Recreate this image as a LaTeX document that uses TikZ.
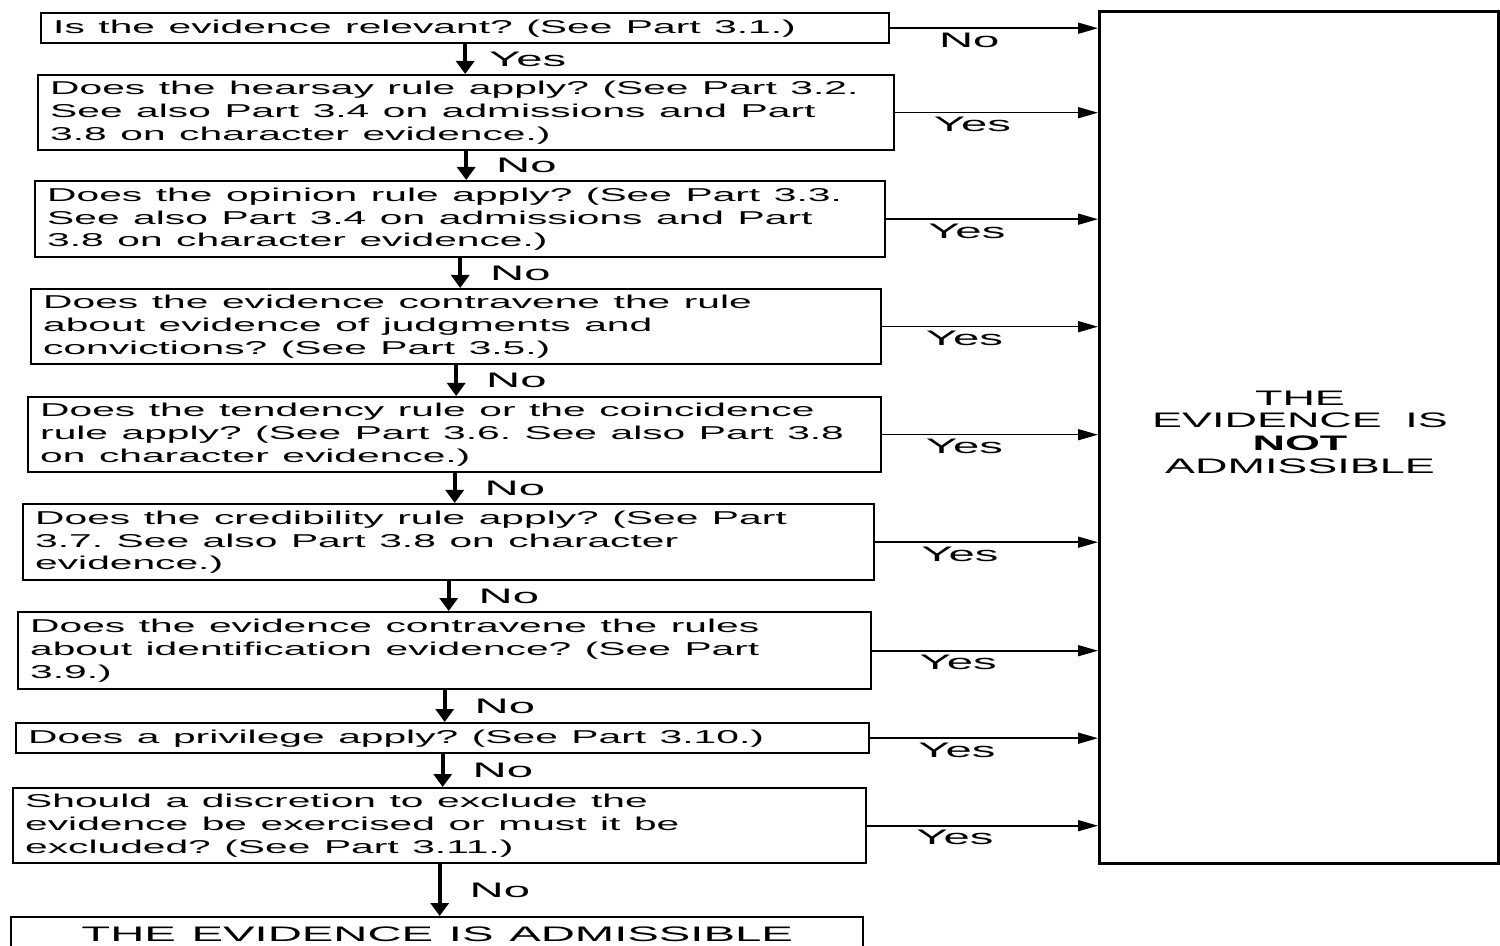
\documentclass[tikz,border=0pt]{standalone}
\usepackage{fontspec}
\usepackage{graphicx}
\setmainfont{Liberation Sans}
\DeclareRobustCommand\mainfnt{\fontsize{9.3pt}{11.3pt}\selectfont\frenchspacing\spaceskip=5pt\relax}
\DeclareRobustCommand\lblfnt{\fontsize{10.5pt}{11.35pt}\selectfont\frenchspacing\spaceskip=5.5pt\relax}
\newcommand\wl[1]{\scalebox{2.19}[1]{#1}}
\newcommand\wb[1]{\scalebox{2.25}[1]{#1}}
\newcommand\wc[1]{\scalebox{2.14}[1]{#1}}
\usetikzlibrary{arrows.meta}
\begin{document}
\begin{tikzpicture}[x=0.5pt, y=-0.5pt,
  font=\mainfnt,
  box/.style={draw, line width=1.2pt, anchor=north west, align=left, inner xsep=6pt, inner ysep=1pt},
  darr/.style={line width=2pt, -{Triangle[length=6.5pt,width=9pt]}},
  rarr/.style={line width=0.8pt, -{Triangle[length=10pt,width=5.5pt]}},
  lbl/.style={font=\lblfnt},
  lab/.style={lbl, anchor=west, inner sep=0pt, xshift=14pt},
  rlab/.style={lbl, anchor=north, inner sep=2pt, pos=0.38}]
\useasboundingbox (0,0) rectangle (1500,946);
\clip (0,0) rectangle (1500,946);

\node[box, text width=412pt, minimum height=15pt] (b1) at (40,12)
  {\wl{Is the evidence relevant? (See Part 3.1.)}};
\node[box, text width=416pt, minimum height=37.5pt] (b2) at (37,74)
  {\wl{Does the hearsay rule apply? (See Part 3.2.}\\\wl{See also Part 3.4 on admissions and Part}\\\wl{3.8 on character evidence.)}};
\node[box, text width=413pt, minimum height=38pt] (b3) at (34,180)
  {\wl{Does the opinion rule apply? (See Part 3.3.}\\\wl{See also Part 3.4 on admissions and Part}\\\wl{3.8 on character evidence.)}};
\node[box, text width=413pt, minimum height=37.5pt] (b4) at (30,288)
  {\wl{Does the evidence contravene the rule}\\\wl{about evidence of judgments and}\\\wl{convictions? (See Part 3.5.)}};
\node[box, text width=414.5pt, minimum height=37.5pt] (b5) at (27,396)
  {\wl{Does the tendency rule or the coincidence}\\\wl{rule apply? (See Part 3.6. See also Part 3.8}\\\wl{on character evidence.)}};
\node[box, text width=413.5pt, minimum height=38pt] (b6) at (22,503)
  {\wl{Does the credibility rule apply? (See Part}\\\wl{3.7. See also Part 3.8 on character}\\\wl{evidence.)}};
\node[box, text width=414.5pt, minimum height=38.5pt] (b7) at (17,611)
  {\wl{Does the evidence contravene the rules}\\\wl{about identification evidence? (See Part}\\\wl{3.9.)}};
\node[box, text width=414.5pt, minimum height=15pt] (b8) at (15,722)
  {\wl{Does a privilege apply? (See Part 3.10.)}};
\node[box, text width=414.5pt, minimum height=37.5pt] (b9) at (12,787)
  {\wl{Should a discretion to exclude the}\\\wl{evidence be exercised or must it be}\\\wl{excluded? (See Part 3.11.)}};
\node[box, lbl, text width=414pt, minimum height=17pt, align=center] (b10) at (10,916)
  {\wb{THE EVIDENCE IS ADMISSIBLE}};

\node[draw, line width=1.6pt, anchor=north west, minimum width=199.5pt, minimum height=426pt, inner sep=0pt] (nb) at (1098,10) {};
\node[lbl, align=center, inner sep=0pt] (nbt) at (1300,432)
  {\wc{THE}\\\wc{EVIDENCE IS}\\\wc{\textbf{NOT}}\\\wc{ADMISSIBLE}};

\draw[darr] (b1.south) -- (b1.south |- b2.north) node[lab, midway, xshift=-3pt] {\wb{Yes}};
\draw[darr] (b2.south) -- (b2.south |- b3.north) node[lab, midway] {\wb{No}};
\draw[darr] (b3.south) -- (b3.south |- b4.north) node[lab, midway] {\wb{No}};
\draw[darr] (b4.south) -- (b4.south |- b5.north) node[lab, midway] {\wb{No}};
\draw[darr] (b5.south) -- (b5.south |- b6.north) node[lab, midway] {\wb{No}};
\draw[darr] (b6.south) -- (b6.south |- b7.north) node[lab, midway] {\wb{No}};
\draw[darr] (b7.south) -- (b7.south |- b8.north) node[lab, midway] {\wb{No}};
\draw[darr] (b8.south) -- (b8.south |- b9.north) node[lab, midway] {\wb{No}};
\draw[darr] (b9.south) -- (b9.south |- b10.north) node[lab, midway] {\wb{No}};

\draw[rarr] (b1.east) -- (b1.east -| nb.west) node[rlab] {\wb{No}};
\draw[rarr] (b2.east) -- (b2.east -| nb.west) node[rlab] {\wb{Yes}};
\draw[rarr] (b3.east) -- (b3.east -| nb.west) node[rlab] {\wb{Yes}};
\draw[rarr] (b4.east) -- (b4.east -| nb.west) node[rlab] {\wb{Yes}};
\draw[rarr] (b5.east) -- (b5.east -| nb.west) node[rlab] {\wb{Yes}};
\draw[rarr] (b6.east) -- (b6.east -| nb.west) node[rlab] {\wb{Yes}};
\draw[rarr] (b7.east) -- (b7.east -| nb.west) node[rlab] {\wb{Yes}};
\draw[rarr] (b8.east) -- (b8.east -| nb.west) node[rlab] {\wb{Yes}};
\draw[rarr] (b9.east) -- (b9.east -| nb.west) node[rlab] {\wb{Yes}};
\end{tikzpicture}
\end{document}
